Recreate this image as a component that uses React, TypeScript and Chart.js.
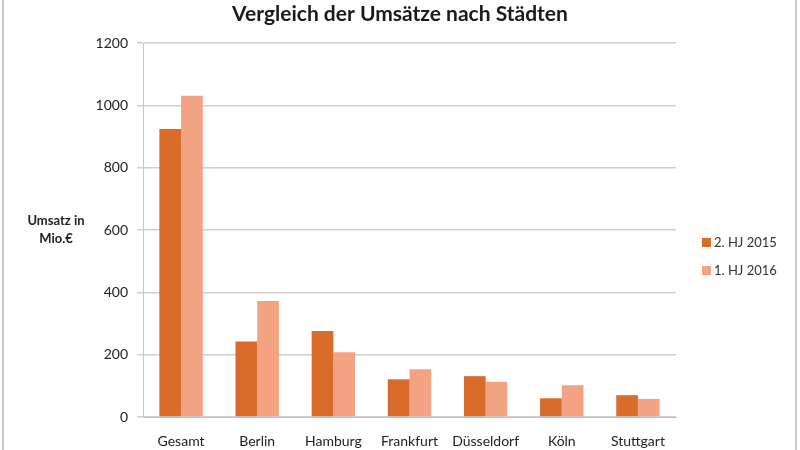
import React, { useEffect, useRef } from "react";
import { Chart, registerables } from "chart.js";

Chart.register(...registerables);

const categories = ["Gesamt", "Berlin", "Hamburg", "Frankfurt", "Düsseldorf", "Köln", "Stuttgart"];
const seriesNames = ["2. HJ 2015", "1. HJ 2016"];
const values2015 = [924, 242, 276, 121, 131, 60, 70];
const values2016 = [1031, 372, 208, 153, 113, 102, 58];
const yTitleLines = ["Umsatz in", "Mio.€"];
const chartTitle = "Vergleich der Umsätze nach Städten";

const FONT = "Lato, 'Open Sans', sans-serif";
const C1 = "#D96B2B";
const C2 = "#F3A384";

const decorPlugin = {
  id: "decor",
  afterDraw(chart: any) {
    const ctx = chart.ctx;
    ctx.save();
    ctx.strokeStyle = "#c8c8c8";
    ctx.lineWidth = 2;
    ctx.beginPath();
    ctx.moveTo(3, 0);
    ctx.lineTo(3, 450);
    ctx.moveTo(796, 0);
    ctx.lineTo(796, 450);
    ctx.stroke();
    ctx.fillStyle = "#1a1a1a";
    ctx.font = `bold 21px ${FONT}`;
    ctx.textAlign = "center";
    ctx.textBaseline = "middle";
    ctx.fillText(chartTitle, 400, 14);
    ctx.font = `bold 13px ${FONT}`;
    ctx.fillStyle = "#222";
    ctx.fillText(yTitleLines[0], 56, 221);
    ctx.fillText(yTitleLines[1], 56, 239);
    ctx.textAlign = "left";
    ctx.font = `13px ${FONT}`;
    chart.data.datasets.forEach((ds: any, i: number) => {
      const y = 243 + i * 28;
      ctx.fillStyle = ds.backgroundColor;
      ctx.fillRect(702, y - 5, 9, 9);
      ctx.fillStyle = "#333";
      ctx.fillText(ds.label, 714, y);
    });
    ctx.restore();
  },
};

export default function App() {
  const ref = useRef<HTMLCanvasElement>(null);
  useEffect(() => {
    const chart = new Chart(ref.current!, {
      type: "bar",
      data: {
        labels: categories,
        datasets: [
          { label: seriesNames[0], data: values2015, backgroundColor: C1 },
          { label: seriesNames[1], data: values2016, backgroundColor: C2 },
        ],
      },
      options: {
        animation: false,
        responsive: false,
        layout: { padding: { left: 73, top: 43, right: 124, bottom: 0 } },
        datasets: { bar: { categoryPercentage: 0.57, barPercentage: 1 } },
        plugins: { legend: { display: false }, title: { display: false }, tooltip: { enabled: false } },
        scales: {
          x: {
            grid: { display: false },
            border: { display: true, color: "#bfbfbf", width: 1 },
            ticks: { color: "#222", font: { family: FONT, size: 14 }, padding: 8, maxRotation: 0 },
            afterFit: (s: any) => { s.height = 33; },
          },
          y: {
            min: 0,
            max: 1200,
            ticks: {
              stepSize: 200,
              color: "#222",
              font: { family: FONT, size: 14 },
              padding: 9,
              callback: (v: any) => String(v),
            },
            grid: { color: "#d0d0d0", tickLength: 6, lineWidth: 1.5 },
            border: { display: true, color: "#c4c8d4", width: 1 },
            afterFit: (s: any) => { s.width = 70; },
          },
        },
      },
      plugins: [decorPlugin],
    });
    return () => chart.destroy();
  }, []);
  return (
    <div style={{ position: "fixed", left: 0, top: 0, width: 800, height: 450, background: "#fff" }}>
      <canvas ref={ref} width={800} height={450} />
    </div>
  );
}
